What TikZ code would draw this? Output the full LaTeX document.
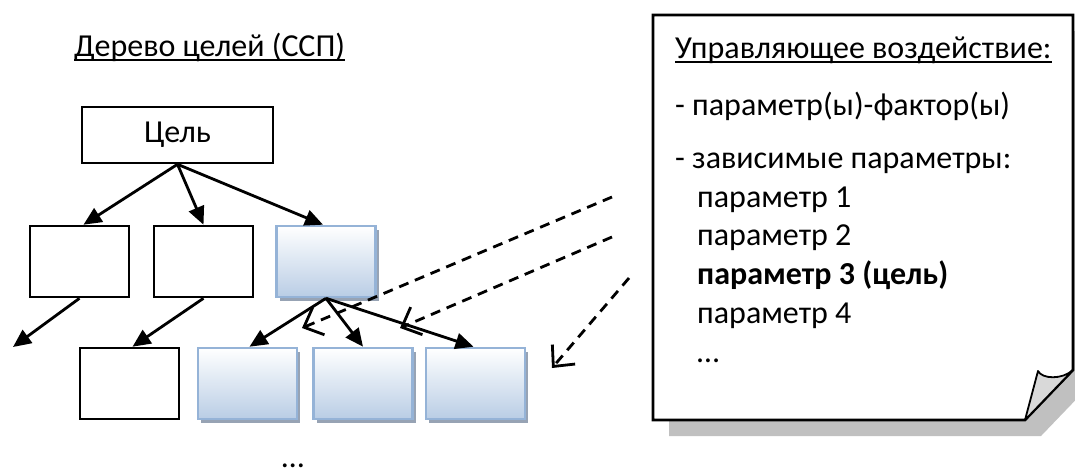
\documentclass[tikz,border=0pt]{standalone}
\usepackage{fontspec}
\setmainfont{Carlito}
\usetikzlibrary{arrows.meta,shadows}
\definecolor{bblue}{RGB}{149,179,215}
\definecolor{bfill}{RGB}{185,205,229}
\definecolor{bshadow}{RGB}{151,163,180}
\definecolor{nshadow}{RGB}{192,192,192}
\definecolor{flapgray}{RGB}{217,217,217}
\begin{document}
\begin{tikzpicture}[x=1pt,y=-1pt,
  txt/.style={inner sep=0pt,anchor=base west,font=\fontsize{32}{38}\selectfont},
  wbox/.style={draw=black,line width=2.6pt,fill=white,minimum width=99pt,minimum height=71pt,inner sep=0pt},
  bbox/.style={draw=bblue,line width=2.6pt,top color=white,bottom color=bfill,minimum width=99pt,minimum height=71pt,inner sep=0pt,
    drop shadow={shadow xshift=3pt,shadow yshift=-4pt,fill=bshadow,opacity=1}},
  arr/.style={line width=2.8pt,-{Triangle[length=18pt,width=16pt]}},
  darr/.style={line width=2.8pt,dash pattern=on 10pt off 7pt,-{Straight Barb[length=16pt,width=30pt,line width=2.8pt]}},
  uline/.style={line width=1.8pt}]
\useasboundingbox (0,0) rectangle (1075,474);

% title
\node[txt] (title) at (74,56) {Дерево целей (ССП)};
\draw[uline] ([yshift=-4pt]title.base west) -- ([yshift=-4pt]title.base east);

% tree
\node[wbox,minimum width=191pt,minimum height=56pt,font=\fontsize{32}{38}\selectfont] (goal) at (177.5,135) {Цель};
\node[wbox] (l1) at (79.5,261.5) {};
\node[wbox] (l2) at (203.5,261.5) {};
\node[bbox] (l3) at (326,261.5) {};
\node[wbox] (b1) at (129.5,383.5) {};
\node[bbox] (b2) at (247.5,383.5) {};
\node[bbox] (b3) at (363,383.5) {};
\node[bbox] (b4) at (475.5,383.5) {};
\node[txt,anchor=base] (dots) at (293,467) {…};

\coordinate (f1) at (13,347);
\draw[arr] (goal.south) -- ([xshift=4pt]l1.north);
\draw[arr] (goal.south) -- (l2.north);
\draw[arr] (goal.south) -- ([xshift=-3pt]l3.north);
\draw[arr] (l1.south) -- (f1);
\draw[arr] (l2.south) -- ([xshift=3pt]b1.north);
\draw[arr] (l3.south) -- ([xshift=2pt]b2.north);
\draw[arr] (l3.south) -- (b3.north);
\draw[arr] (l3.south) -- ([xshift=-2pt]b4.north);

% note
\fill[nshadow] (669,31) -- (1089,31) -- (1089,386) -- (1041,436) -- (669,436) -- cycle;
\draw[line width=2.6pt,fill=white,line join=miter] (653,15) -- (1073,15) -- (1073,370) -- (1025,420) -- (653,420) -- cycle;
\draw[line width=1.8pt,fill=flapgray,line join=round] (1025,420) -- (1038,371) .. controls (1042,379) and (1062,380) .. (1073,370) -- cycle;

\node[txt] (n0) at (675,58) {Управляющее воздействие:};
\draw[uline] ([yshift=-4pt]n0.base west) -- ([yshift=-4pt]n0.base east);
\node[txt] (n1) at (675,115) {- параметр(ы)-фактор(ы)};
\node[txt] (n2) at (675,168) {- зависимые параметры:};
\node[txt] (n3) at (697,207) {параметр 1};
\node[txt] (n4) at (697,245) {параметр 2};
\node[txt,font=\fontsize{32}{38}\selectfont\bfseries] (n5) at (697,284) {параметр 3 (цель)};
\node[txt] (n6) at (697,323) {параметр 4};
\node[txt] (n7) at (697,362) {…};

% dashed connectors
\coordinate (s1) at (612,197);
\coordinate (s2) at (612,237);
\coordinate (s3) at (629,278);
\coordinate (e1) at (302,328);
\coordinate (e2) at (400,328);
\coordinate (e3) at (552,368);
\draw[darr] (s1) -- (e1);
\draw[darr] (s2) -- (e2);
\draw[darr] (s3) -- (e3);
\end{tikzpicture}
\end{document}
